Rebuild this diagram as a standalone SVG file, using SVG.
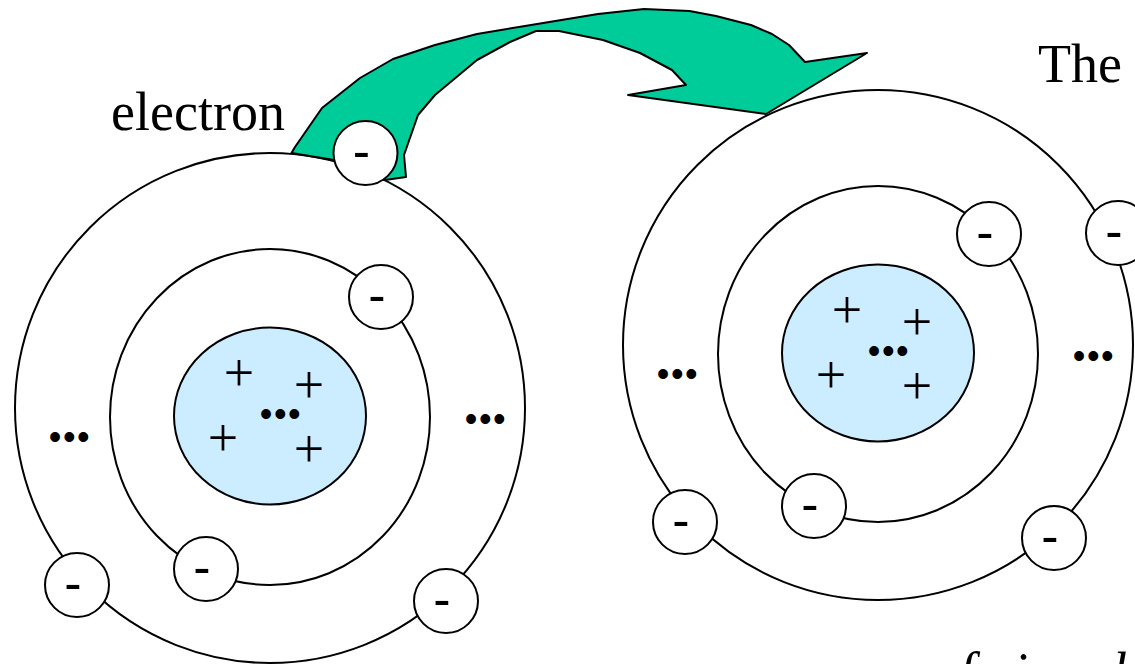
<svg xmlns="http://www.w3.org/2000/svg" xmlns:xlink="http://www.w3.org/1999/xlink" width="1135" height="664" viewBox="0 0 1135 664">
  <style>
    .orbit { fill: none; stroke: #000; stroke-width: 2; }
    .nucleus { fill: #CCECFF; stroke: #000; stroke-width: 2; }
    .shell { fill: #fff; stroke: #000; stroke-width: 2; }
    .minus { font-family: "Liberation Sans", Arial, sans-serif; font-size: 52px; text-anchor: middle; fill: #000; }
    .plus { font-family: "Liberation Serif", "Times New Roman", serif; font-size: 54px; text-anchor: middle; fill: #000; }
    .dots { font-family: "Liberation Sans", Arial, sans-serif; font-size: 36px; letter-spacing: 1.6px; text-anchor: middle; fill: #000; }
    .label { font-family: "Liberation Serif", "Times New Roman", serif; font-size: 54px; fill: #000; }
    .italic { font-style: italic; }
    .transfer { fill: #00CC99; stroke: #000; stroke-width: 2; stroke-linejoin: round; }
  </style>
  <defs>
    <!-- a single electron: white disc with a minus sign -->
    <g id="electron">
      <circle class="shell" r="32"/>
      <text class="minus" x="-4" y="15.7">-</text>
    </g>
    <!-- shells, nucleus and the electrons shared by both atoms -->
    <g id="atom-core">
      <circle class="orbit" cx="270" cy="408" r="255"/>
      <ellipse class="orbit" cx="270" cy="417" rx="160" ry="168"/>
      <ellipse class="nucleus" cx="270" cy="416" rx="96" ry="88.5"/>
      <text class="plus" x="239" y="390.7">+</text>
      <text class="plus" x="309" y="402.7">+</text>
      <text class="plus" x="223" y="455.7">+</text>
      <text class="plus" x="309" y="466.7">+</text>
      <text class="dots" x="281" y="426">•••</text>
      <text class="dots" x="70" y="449">•••</text>
      <text class="dots" x="486" y="431">•••</text>
      <use xlink:href="#electron" x="381" y="297"/>
      <use xlink:href="#electron" x="206" y="569"/>
      <use xlink:href="#electron" x="77" y="585"/>
      <use xlink:href="#electron" x="446" y="601"/>
    </g>
  </defs>

  <rect width="1135" height="664" fill="#fff"/>

  <g id="atom-left">
    <use xlink:href="#atom-core"/>
  </g>

  <g id="atom-right">
    <use xlink:href="#atom-core" transform="translate(608,-63)"/>
    <use xlink:href="#electron" x="1118" y="233"/>
  </g>

  <g id="connectors">
    <!-- curved block arrow carrying the electron across -->
    <path class="transfer" d="M291.5,153 L295,147 L322,108 L360,78 L393,59 L435,45 L477,34 L525,26 L598,14 L644,9 L689.5,11 L716,16 L751,25 L772,34 L789,45 L805,62 L867,53 L766,114 L628,95 L686,85 L672,70 L640,53 L603,40 L559,31 L536,31 L510,42 L477,60 L435,95 L418,115 L404,155 L406,177 L385,180 L334,160 Z"/>
  </g>

  <g id="moving-electron">
    <use xlink:href="#electron" x="365.5" y="153"/>
  </g>

  <g id="labels">
    <text class="label" x="111" y="130">electron</text>
    <text class="label" x="1038" y="82">The</text>
    <text class="label italic" y="690"><tspan x="959">f</tspan><tspan x="1013">i</tspan><tspan x="1112">l</tspan></text>
  </g>
</svg>
